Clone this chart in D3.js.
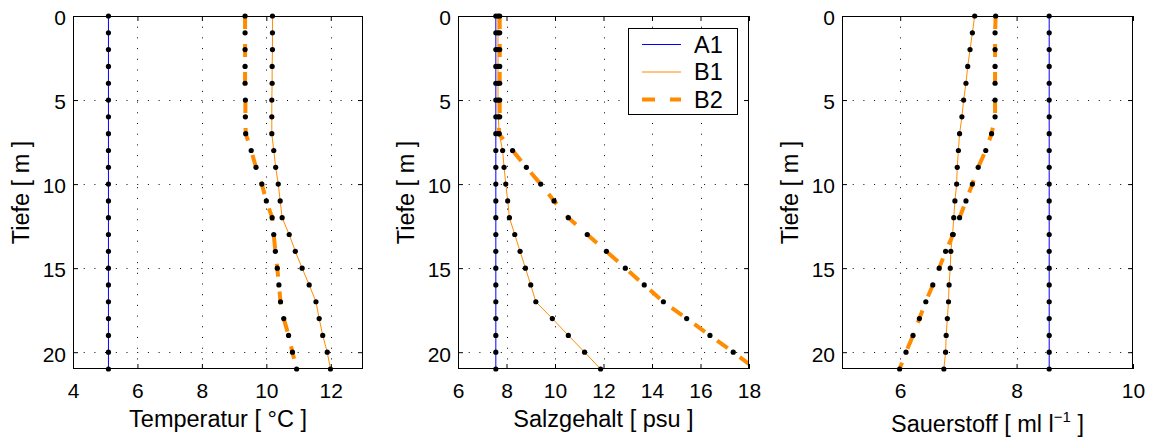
<!DOCTYPE html>
<html>
<head>
<meta charset="utf-8">
<script src="https://cdn.jsdelivr.net/npm/d3@7"></script>
<style>
  body { margin: 0; background: #fff; }
  svg text { font-family: "Liberation Sans", Arial, Helvetica, sans-serif; fill: #000; }
</style>
</head>
<body>
<svg id="chart" width="1149" height="438"></svg>
<script>
// depth levels [m]
var depth = [0, 1, 2, 3, 4, 5, 6, 7, 8, 9, 10, 11, 12, 13, 14, 15, 16, 17, 18, 19, 20, 21];

// temperature [degC]
var tempA1 = [5.1, 5.1, 5.1, 5.1, 5.1, 5.1, 5.1, 5.1, 5.1, 5.1, 5.1, 5.1, 5.1, 5.1, 5.1, 5.1, 5.1, 5.1, 5.1, 5.1, 5.1, 5.1];
var tempB1 = [10.19, 10.19, 10.19, 10.18, 10.18, 10.17, 10.17, 10.17, 10.23, 10.29, 10.37, 10.43, 10.49, 10.71, 10.90, 11.11, 11.33, 11.54, 11.64, 11.75, 11.89, 11.99];
var tempB2 = [9.34, 9.34, 9.34, 9.34, 9.34, 9.35, 9.35, 9.36, 9.53, 9.68, 9.86, 10.00, 10.18, 10.23, 10.28, 10.34, 10.39, 10.44, 10.54, 10.69, 10.81, 10.94];

// salinity [psu]
var salA1 = [7.56, 7.56, 7.56, 7.56, 7.56, 7.56, 7.56, 7.56, 7.56, 7.56, 7.56, 7.56, 7.56, 7.56, 7.56, 7.56, 7.56, 7.56, 7.56, 7.56, 7.56, 7.56];
var salB1 = [7.65, 7.65, 7.65, 7.65, 7.65, 7.65, 7.66, 7.70, 7.84, 7.90, 7.97, 8.05, 8.12, 8.34, 8.56, 8.78, 9.00, 9.21, 9.89, 10.55, 11.22, 11.88];
var salB2 = [7.72, 7.72, 7.72, 7.72, 7.72, 7.72, 7.72, 7.68, 8.25, 8.82, 9.41, 9.96, 10.55, 11.33, 12.12, 12.90, 13.68, 14.47, 15.43, 16.39, 17.35, 18.28];

// oxygen [ml/l]
var oxyA1 = [8.56, 8.56, 8.56, 8.56, 8.56, 8.56, 8.56, 8.56, 8.56, 8.56, 8.56, 8.56, 8.56, 8.56, 8.56, 8.56, 8.56, 8.56, 8.56, 8.56, 8.56, 8.56];
var oxyB1 = [7.28, 7.24, 7.20, 7.16, 7.13, 7.09, 7.06, 7.02, 7.00, 6.98, 6.97, 6.94, 6.92, 6.90, 6.87, 6.86, 6.84, 6.83, 6.81, 6.79, 6.78, 6.75];
var oxyB2 = [7.64, 7.63, 7.63, 7.63, 7.63, 7.63, 7.63, 7.57, 7.47, 7.34, 7.24, 7.13, 7.02, 6.91, 6.78, 6.67, 6.56, 6.44, 6.33, 6.22, 6.10, 5.99];

var seriesNames = ['A1', 'B1', 'B2'];
var depthTicks = [0, 5, 10, 15, 20];

var styles = {
  A1: { color: '#0000ff', width: 1, dash: null },
  B1: { color: '#ff8c00', width: 1, dash: null },
  B2: { color: '#ff8c00', width: 4, dash: '13,15' }
};

var panels = [
  { left: 73, right: 363, xDomain: [4, 13], xTicks: [4, 6, 8, 10, 12], label: 'Temperatur [ °C ]', data: [tempA1, tempB1, tempB2] },
  { left: 458, right: 749, xDomain: [6, 18], xTicks: [6, 8, 10, 12, 14, 16, 18], label: 'Salzgehalt [ psu ]', data: [salA1, salB1, salB2], legend: true },
  { left: 842, right: 1133, xDomain: [5, 10], xTicks: [6, 8, 10], label: 'Sauerstoff [ ml l', sup: '−1', labelTail: ' ]', data: [oxyA1, oxyB1, oxyB2] }
];

// note: "top" is taken by window.top, so use plotTop
var plotTop = 16, plotBottom = 369;
var tickFont = '21px', labelFont = '23.5px';
var svg = d3.select('#chart');

var y = d3.scaleLinear().domain([0, 21]).range([plotTop, plotBottom]);

panels.forEach(function (p, i) {
  var x = d3.scaleLinear().domain(p.xDomain).range([p.left, p.right]);
  var g = svg.append('g');

  g.append('clipPath').attr('id', 'clip' + i)
    .append('rect')
    .attr('x', p.left).attr('y', plotTop)
    .attr('width', p.right - p.left).attr('height', plotBottom - plotTop);

  // dotted grid
  var grid = g.append('g').attr('stroke', '#000').attr('stroke-width', 1).attr('stroke-dasharray', '1,9.7');
  grid.selectAll('.vx').data(p.xTicks.filter(function (t) { return t > p.xDomain[0] && t < p.xDomain[1]; }))
    .enter().append('line')
    .attr('x1', function (d) { return Math.round(x(d)) + 0.5; })
    .attr('x2', function (d) { return Math.round(x(d)) + 0.5; })
    .attr('y1', plotTop).attr('y2', plotBottom);
  grid.selectAll('.hy').data(depthTicks.filter(function (t) { return t > 0 && t < 21; }))
    .enter().append('line')
    .attr('y1', function (d) { return Math.round(y(d)) + 0.5; })
    .attr('y2', function (d) { return Math.round(y(d)) + 0.5; })
    .attr('x1', p.left).attr('x2', p.right);

  // axes, ticks pointing inwards
  g.append('g').attr('transform', 'translate(0,' + plotBottom + ')')
    .call(d3.axisBottom(x).tickValues(p.xTicks).tickFormat(d3.format('d')).tickSizeInner(-5).tickSizeOuter(0).tickPadding(14))
    .call(function (a) { a.select('.domain').remove(); a.selectAll('text').style('font-size', tickFont); });
  g.append('g').attr('transform', 'translate(0,' + plotTop + ')')
    .call(d3.axisTop(x).tickValues(p.xTicks).tickFormat('').tickSizeInner(-5).tickSizeOuter(0))
    .call(function (a) { a.select('.domain').remove(); });
  g.append('g').attr('transform', 'translate(' + p.left + ',0)')
    .call(d3.axisLeft(y).tickValues(depthTicks).tickFormat(d3.format('d')).tickSizeInner(-5).tickSizeOuter(0).tickPadding(7))
    .call(function (a) { a.select('.domain').remove(); a.selectAll('text').style('font-size', tickFont).attr('dy', '0.42em'); });
  g.append('g').attr('transform', 'translate(' + p.right + ',0)')
    .call(d3.axisRight(y).tickValues(depthTicks).tickFormat('').tickSizeInner(-5).tickSizeOuter(0))
    .call(function (a) { a.select('.domain').remove(); });

  // lines
  var line = d3.line()
    .x(function (d) { return x(d[1]); })
    .y(function (d) { return y(d[0]); });

  var lines = g.append('g').attr('clip-path', 'url(#clip' + i + ')');
  p.data.forEach(function (vals, k) {
    var st = styles[seriesNames[k]];
    lines.append('path')
      .datum(d3.zip(depth, vals))
      .attr('d', line)
      .attr('fill', 'none')
      .attr('stroke', st.color)
      .attr('stroke-width', st.width)
      .attr('stroke-dasharray', st.dash);
  });

  // markers on every data point that lies inside the x range
  p.data.forEach(function (vals) {
    g.append('g').selectAll('circle')
      .data(d3.zip(depth, vals).filter(function (d) { return d[1] >= p.xDomain[0] && d[1] <= p.xDomain[1]; }))
      .enter().append('circle')
      .attr('cx', function (d) { return x(d[1]); })
      .attr('cy', function (d) { return y(d[0]); })
      .attr('r', 2.6)
      .attr('fill', '#000');
  });

  // axes box
  g.append('rect')
    .attr('x', p.left + 0.5).attr('y', plotTop + 0.5)
    .attr('width', p.right - p.left - 1).attr('height', plotBottom - plotTop - 1)
    .attr('fill', 'none').attr('stroke', '#000').attr('stroke-width', 1);

  // labels
  var xl = g.append('text')
    .attr('x', (p.left + p.right) / 2)
    .attr('y', p.sup ? 432 : 427)
    .attr('text-anchor', 'middle')
    .style('font-size', labelFont)
    .text(p.label);
  if (p.sup) {
    xl.append('tspan').attr('dy', -10).style('font-size', '15px').text(p.sup);
    xl.append('tspan').attr('dy', 10).text(p.labelTail);
  }

  g.append('text')
    .attr('transform', 'translate(' + (p.left - 44) + ',' + ((plotTop + plotBottom) / 2) + ') rotate(-90)')
    .attr('text-anchor', 'middle')
    .style('font-size', labelFont)
    .text('Tiefe [ m ]');

  if (p.legend) {
    var lg = g.append('g').attr('transform', 'translate(628,28)');
    lg.append('rect').attr('x', 0.5).attr('y', 0.5).attr('width', 109).attr('height', 86)
      .attr('fill', '#fff').attr('stroke', '#000').attr('stroke-width', 1);
    seriesNames.forEach(function (name, k) {
      var st = styles[name];
      var yy = 16.5 + k * 27.5;
      lg.append('line')
        .attr('x1', 14).attr('x2', 53).attr('y1', yy).attr('y2', yy)
        .attr('stroke', st.color).attr('stroke-width', st.width)
        .attr('stroke-dasharray', st.dash);
      lg.append('text').attr('x', 66).attr('y', yy + 8)
        .style('font-size', labelFont).text(name);
    });
  }
});
</script>
</body>
</html>
